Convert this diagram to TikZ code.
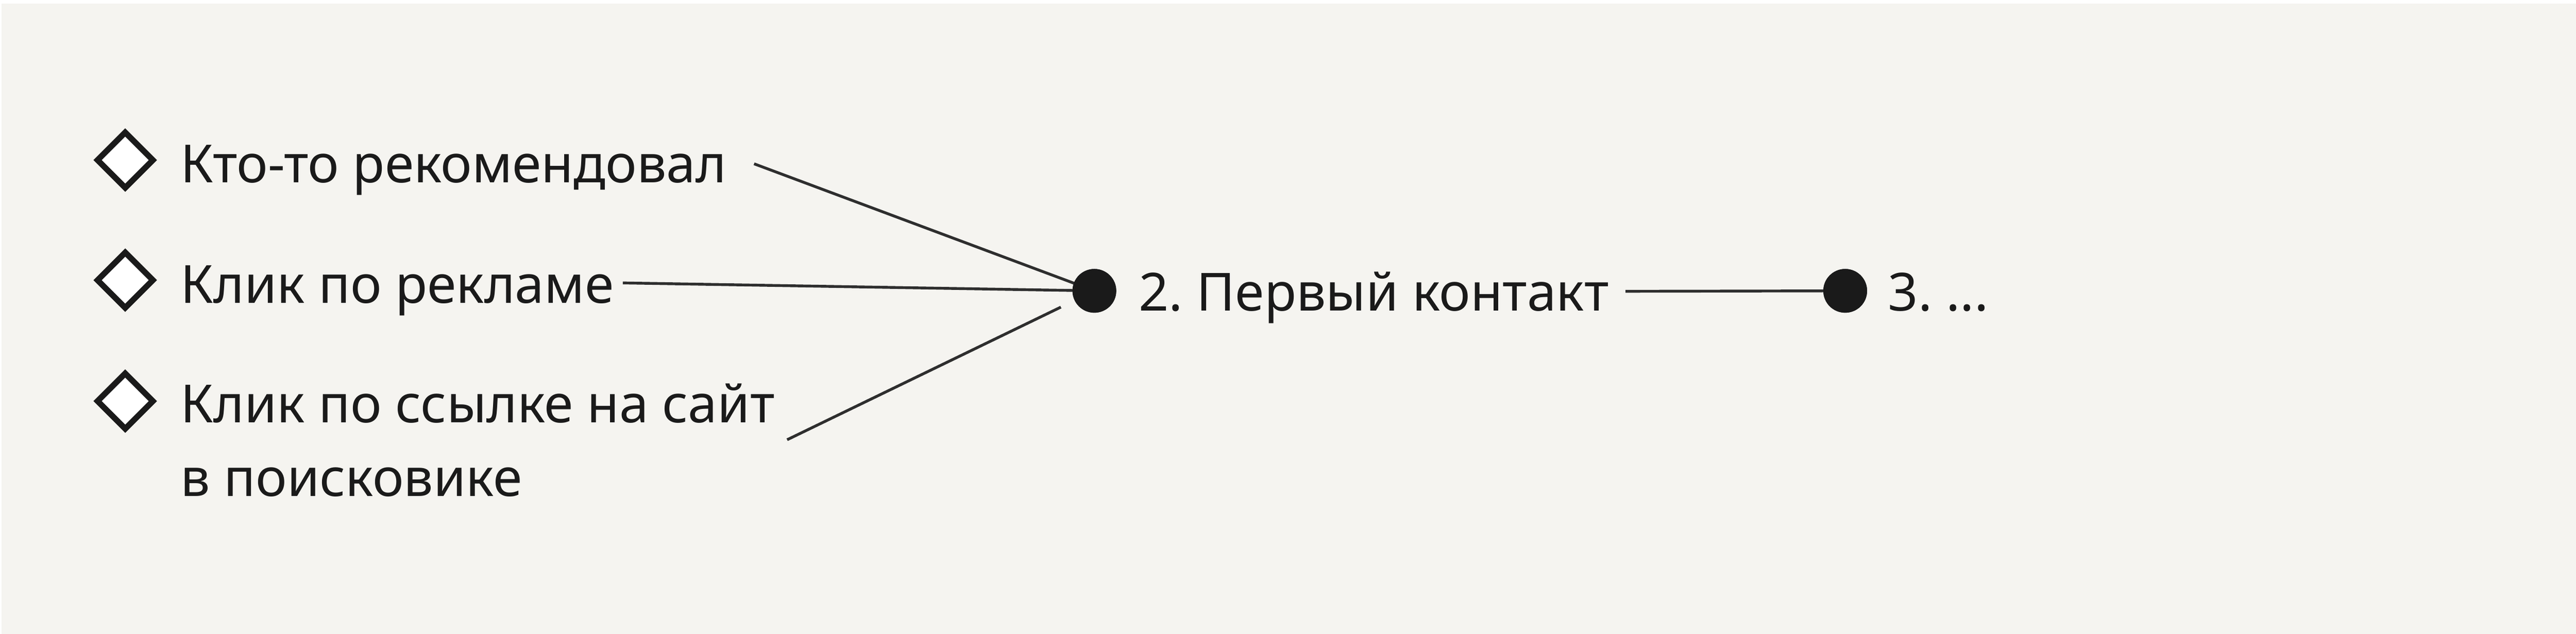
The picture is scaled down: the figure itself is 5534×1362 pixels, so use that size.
\documentclass[tikz,border=0pt]{standalone}
\usepackage{fontspec}
\setmainfont{Noto Sans}
\usetikzlibrary{shapes.geometric}
\definecolor{bg}{HTML}{F5F4F0}
\definecolor{ink}{HTML}{1A1A1A}
\definecolor{wirec}{HTML}{2E2E2E}
\begin{document}
\begin{tikzpicture}[x=1pt,y=-1pt,
  lbl/.style={anchor=base west, inner sep=0pt, outer sep=0pt, text=ink, font=\fontsize{113}{158}\selectfont},
  opt/.style={diamond, draw=ink, fill=white, line width=12.5pt, minimum width=124pt, minimum height=124pt, inner sep=0pt},
  dotnode/.style={circle, fill=ink, minimum size=94pt, inner sep=0pt},
  wire/.style={draw=wirec, line width=6pt}
]
\useasboundingbox (0,0) rectangle (5534,1362);
\fill[white] (0,0) rectangle (5534,1362);
\fill[bg] (3,8) rectangle (5534,1362);

% options
\node[opt] (o1) at (269,344) {};
\node[opt] (o2) at (269,602) {};
\node[opt] (o3) at (269,862) {};
\node[lbl] (t1) at (388,392) {Кто-то рекомендовал};
\node[lbl] (t2) at (388,651) {Клик по рекламе};
\node[lbl, align=left] (t3) at (388,1066) {Клик по ссылке на сайт\\в поисковике};

% steps
\node[dotnode] (p2) at (2351,625) {};
\node[lbl] (s2) at (2446,668) {2.\hspace{-0.08em} Первый контакт};
\node[dotnode] (p3) at (3964,625) {};
\node[lbl] (s3) at (4056,668) {3.\hspace{-0.08em} ...};

% connector ends
\coordinate (a1) at (1620,352);
\coordinate (a2) at (1338,608);
\coordinate (a3) at (1691,945);
\coordinate (b3) at (2279,660);
\coordinate (a4) at (3492,626);

\draw[wire] (a1) -- (p2.center);
\draw[wire] (a2) -- (p2.center);
\draw[wire] (a3) -- (b3);
\draw[wire] (a4) -- (p3.center);
\node[dotnode] at (p2) {};
\node[dotnode] at (p3) {};
\end{tikzpicture}
\end{document}
